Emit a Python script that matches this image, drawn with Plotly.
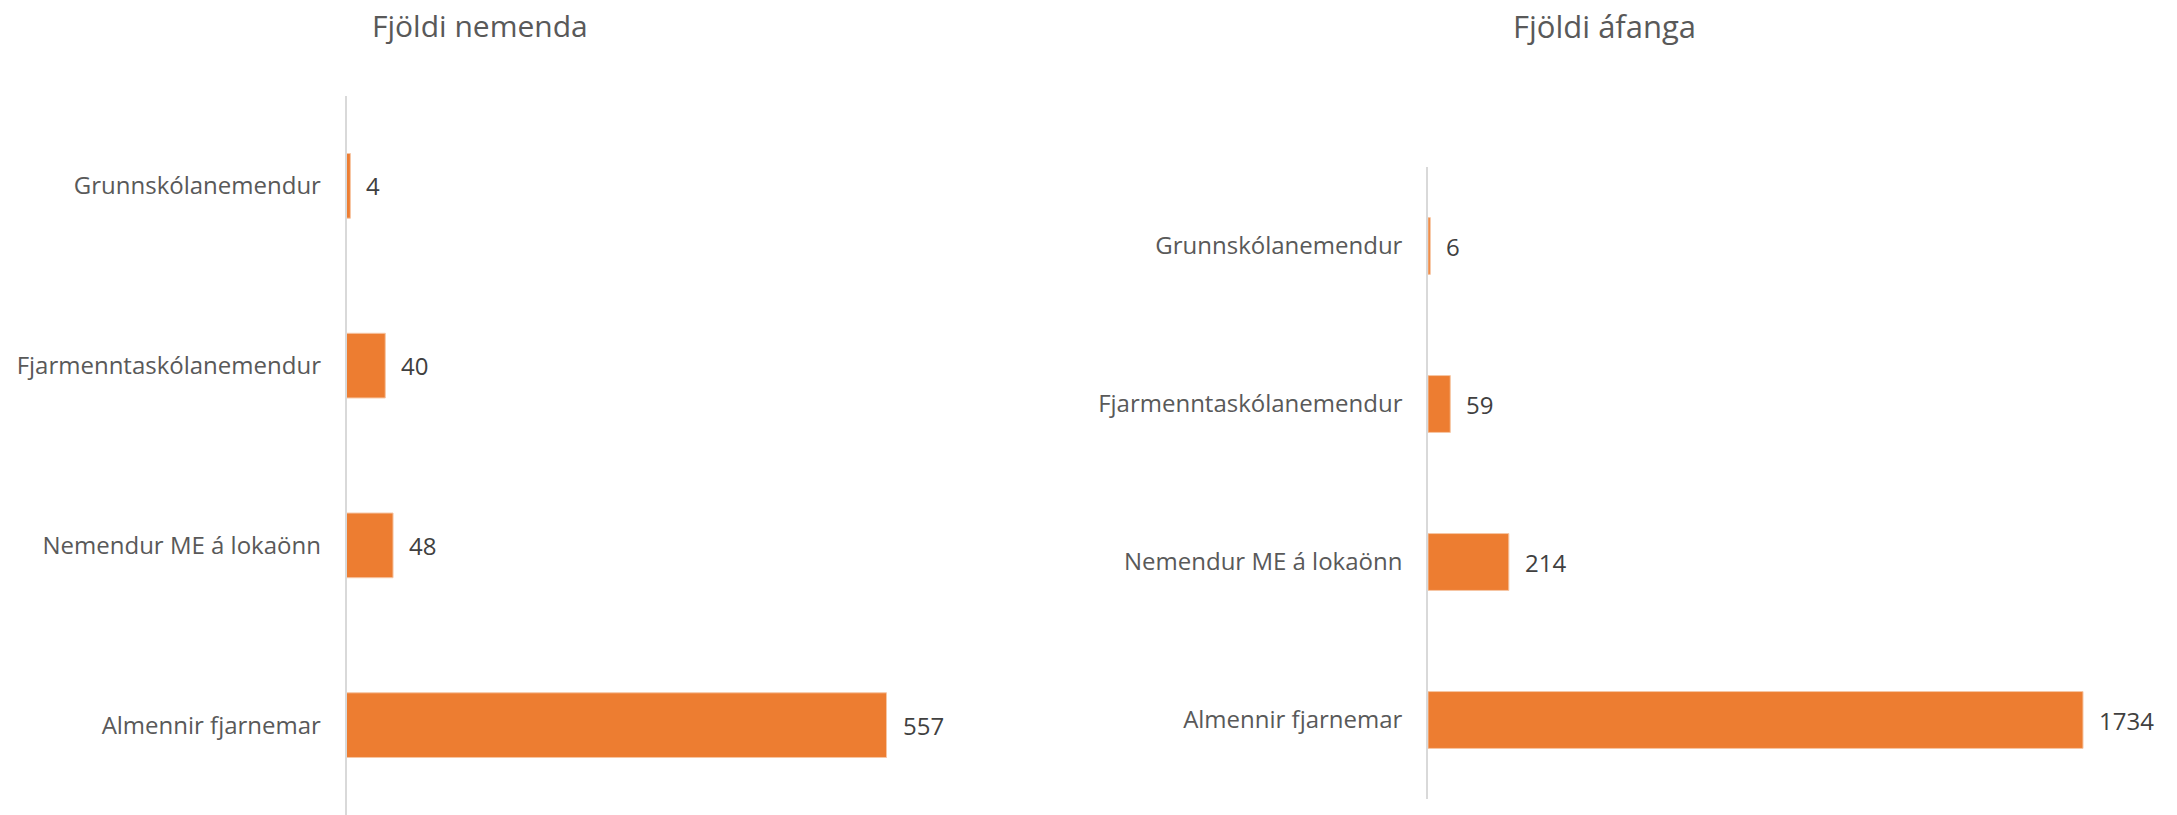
import plotly.graph_objects as go

categories = ["Grunnskólanemendur", "Fjarmenntaskólanemendur", "Nemendur ME á lokaönn", "Almennir fjarnemar"]
students = [4, 40, 48, 557]
courses = [6, 59, 214, 1734]
titles = ["Fjöldi nemenda", "Fjöldi áfanga"]

W, H = 2177, 815
ORANGE = "#ED7D31"
FONT = "Open Sans"

fig = go.Figure()
fig.add_trace(go.Bar(y=categories, x=students, orientation="h", xaxis="x", yaxis="y",
                     marker=dict(color=ORANGE, line=dict(color="#F6C6A4", width=1)),
                     hoverinfo="x+y"))
fig.add_trace(go.Bar(y=categories, x=courses, orientation="h", xaxis="x2", yaxis="y2",
                     marker=dict(color=ORANGE, line=dict(color="#F6C6A4", width=1)),
                     hoverinfo="x+y"))

yax_common = dict(type="category", categoryorder="array", categoryarray=categories,
                  range=[3.5, -0.5], showline=True, linecolor="#D9D9D9", linewidth=1.5,
                  showgrid=False, zeroline=False, ticks="", ticklabelstandoff=19,
                  automargin=False,
                  tickfont=dict(family=FONT, size=24, color="#595959"))

annotations = []
for xr, yr, vals in (("x", "y", students), ("x2", "y2", courses)):
    for c, v in zip(categories, vals):
        annotations.append(dict(x=v, y=c, xref=xr, yref=yr, text=str(v), showarrow=False,
                                xanchor="left", yanchor="middle", xshift=14,
                                font=dict(family=FONT, size=24, color="#404040")))

annotations.append(dict(x=480 / W, y=1 - 25 / H, xref="paper", yref="paper", text=titles[0],
                        showarrow=False, xanchor="center", yanchor="middle",
                        font=dict(family=FONT, size=30, color="#595959")))
annotations.append(dict(x=1604 / W, y=1 - 26 / H, xref="paper", yref="paper", text=titles[1],
                        showarrow=False, xanchor="center", yanchor="middle",
                        font=dict(family=FONT, size=31, color="#595959")))

fig.update_layout(
    template="none",
    width=W, height=H,
    margin=dict(l=0, r=0, t=0, b=0, pad=0, autoexpand=False),
    paper_bgcolor="white", plot_bgcolor="white",
    showlegend=False, bargap=0.64,
    font=dict(family=FONT),
    xaxis=dict(domain=[346.5 / W, 1046 / W], range=[0, (1046 - 346.5) / (540 / 557)],
               visible=False, anchor="y", automargin=False),
    yaxis=dict(domain=[0, 1 - 96 / H], anchor="x", **yax_common),
    xaxis2=dict(domain=[1428 / W, 2150 / W], range=[0, (2150 - 1428) / (655 / 1734)],
                visible=False, anchor="y2", automargin=False),
    yaxis2=dict(domain=[1 - 799 / H, 1 - 167 / H], anchor="x2", **yax_common),
    annotations=annotations,
)

fig.write_html("out.html", config={"displayModeBar": False},
               post_script="document.body.style.margin='0';document.body.style.overflow='hidden';")
